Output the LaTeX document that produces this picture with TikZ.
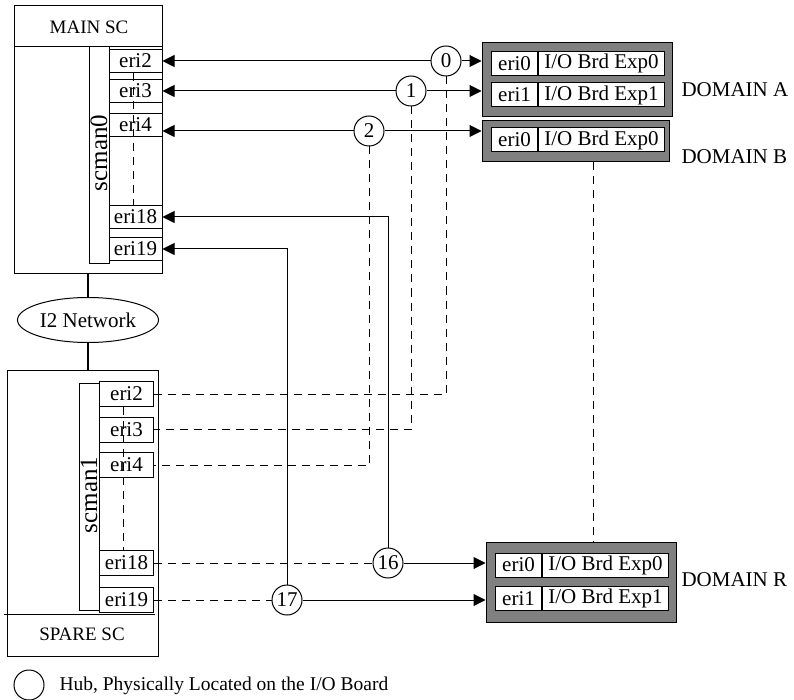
\documentclass[tikz,border=0pt]{standalone}
\usepackage{fontspec}
\setmainfont{Liberation Serif}
\usetikzlibrary{arrows.meta,shapes.geometric}
\definecolor{brdgray}{gray}{0.5}
\begin{document}
\begin{tikzpicture}[x=1pt, y=-1pt, font=\fontsize{21}{24}\selectfont,
    >={Triangle[length=12pt,width=12pt]},
    box/.style={draw, line width=1pt, inner sep=0pt},
    eri/.style={draw, line width=1pt, minimum width=53pt, minimum height=23pt, inner sep=0pt},
    dombox/.style={draw, fill=brdgray, line width=1pt, inner sep=0pt},
    cell/.style={draw, fill=white, line width=1pt, minimum height=24pt, inner sep=0pt, anchor=west},
    hub/.style={draw, circle, fill=white, line width=1pt, minimum size=30pt, inner sep=0pt},
    title/.style={font=\fontsize{19}{22}\selectfont},
    link/.style={line width=1pt},
    dashlink/.style={line width=1pt, dash pattern=on 8pt off 6pt}]
  \useasboundingbox (0,0) rectangle (794,700);
  % main system controller
  \node[box, minimum width=148pt, minimum height=268pt] (mainsc) at (88,140) {};
  \draw[link] (14,47) -- (162,47);
  \node[title] (maintitle) at (89,27) {MAIN SC};
  \node[box, minimum width=20pt, minimum height=217pt] (scman0) at (99,155.5) {};
  \node[rotate=90, font=\fontsize{25}{28}\selectfont] (scman0lbl) at (99,153) {scman0};
  \foreach \n/\y in {2/61, 3/91, 4/125, 18/217, 19/249}
    \node[eri] (m\n) at (135.5,\y) {eri\n};
  \draw[dashlink] ([xshift=-2pt]m2.south) -- ([xshift=-2pt]m18.north);
  % spare system controller
  \node[box, minimum width=151pt, minimum height=286pt] (sparesc) at (82.5,513) {};
  \draw[link] (4,614) -- (155,614);
  \node[title] (sparetitle) at (82,634) {SPARE SC};
  \node[box, minimum width=20pt, minimum height=227pt] (scman1) at (89,496.5) {};
  \node[rotate=90, font=\fontsize{25}{28}\selectfont] (scman1lbl) at (89,495) {scman1};
  \foreach \n/\y in {2/394, 3/429.5, 4/465, 18/563, 19/600}
    \node[eri, minimum width=54pt, minimum height=25pt] (s\n) at (126.5,\y) {eri\n};
  \draw[dashlink] ([xshift=-3pt]s2.south) -- ([xshift=-3pt]s18.north);
  % I2 network between the two
  \node[draw, ellipse, line width=1pt, minimum width=141pt, minimum height=45pt, inner sep=0pt] (i2net) at (88,320) {I2 Network};
  \draw[line width=2pt] (mainsc.south -| i2net) -- (i2net);
  \draw[line width=2pt] (i2net) -- (sparesc.north -| i2net);
  % domains
  \node[dombox, minimum width=190pt, minimum height=74pt] (domA) at (577,80) {};
  \node[dombox, minimum width=187pt, minimum height=41pt] (domB) at (575.5,141.5) {};
  \node[dombox, minimum width=190pt, minimum height=80pt] (domR) at (581,582) {};
  \foreach \nm/\x/\y/\k in {a0/491/63.5/0, a1/491/95/1, b0/491/140/0, r0/495/565/0, r1/495/598.5/1} {
    \node[cell, minimum width=46pt] (e\nm) at (\x,\y) {eri\k};
    \node[cell, minimum width=126pt] (io\nm) at (e\nm.east) {I/O Brd Exp\k};
  }
  \node[anchor=west] (lblA) at (678,90) {DOMAIN A};
  \node[anchor=west] (lblB) at (678,157) {DOMAIN B};
  \node[anchor=west] (lblR) at (678,580) {DOMAIN R};
  % hubs
  \foreach \n/\x/\y in {0/446/61, 1/411/91, 2/369/131, 16/388/563, 17/287/600}
    \node[hub] (h\n) at (\x,\y) {\n};
  \draw[link,<-] (m2.east) -- (h0);
  \draw[link,->] (h0) -- (domA.west |- h0);
  \draw[link,<-] (m3.east) -- (h1);
  \draw[link,->] (h1) -- (domA.west |- h1);
  \draw[link,<-] (m4.east |- h2) -- (h2);
  \draw[link,->] (h2) -- (domB.west |- h2);
  \draw[link,->] (h16) |- (m18.east);
  \draw[link,->] (h16) -- (domR.west |- h16);
  \draw[link,->] (h17) |- (m19.east);
  \draw[link,->] (h17) -- (domR.west |- h17);
  \draw[dashlink] (h0) |- (s2);
  \draw[dashlink] (h1) |- (s3);
  \draw[dashlink] (h2) |- (s4);
  \draw[dashlink] (s18) -- (h16);
  \draw[dashlink] (s19) -- (h17);
  \draw[dashlink] ([xshift=18pt]domB.south) -- ([xshift=18pt]domB.south |- domR.north);
  % legend
  \node[hub] (legendhub) at (29,685) {};
  \node[anchor=west, font=\fontsize{19.5}{22}\selectfont] (legendtxt) at (56,686) {Hub, Physically Located on the I/O Board};
\end{tikzpicture}
\end{document}
